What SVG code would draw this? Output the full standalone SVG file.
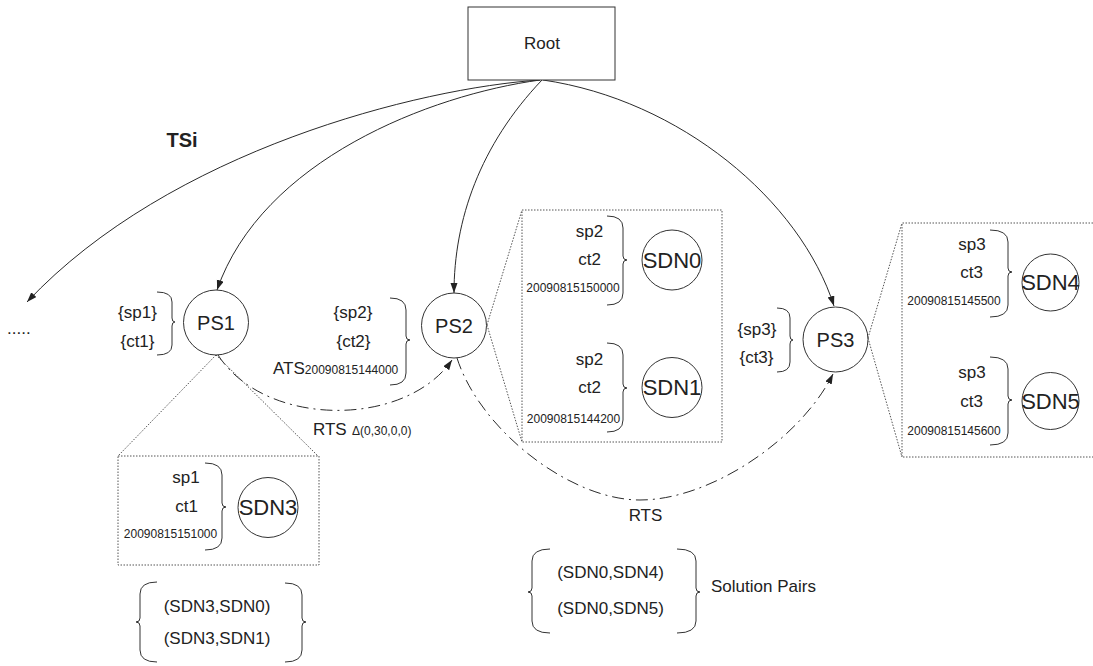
<svg xmlns="http://www.w3.org/2000/svg" width="1093" height="666" viewBox="0 0 1093 666">
<defs>
<marker id="arr" markerUnits="userSpaceOnUse" markerWidth="11" markerHeight="8" refX="10" refY="3.5" orient="auto">
<path d="M0,0 L10,3.5 L0,7 z" fill="#222"/>
</marker>
<style>
text{font-family:"Liberation Sans",Arial,sans-serif;fill:#222}
.t17{font-size:17px}
.t12{font-size:12px}
.ps{font-size:20px;text-anchor:middle}
.sdn{font-size:22px;text-anchor:middle}
.m{text-anchor:middle}
.node{fill:#fff;stroke:#333;stroke-width:1}
.br{fill:none;stroke:#333;stroke-width:1}
.dot{fill:none;stroke:#555;stroke-width:1;stroke-dasharray:1.5 1.5}
.edge{fill:none;stroke:#2a2a2a;stroke-width:1}
.dd{fill:none;stroke:#2a2a2a;stroke-width:1;stroke-dasharray:12 5 2 5}
</style>
</defs>
<rect width="1093" height="666" fill="#fff"/>

<g id="connectors">
<path class="edge" d="M540,80 C420,88 170,150 27,302" marker-end="url(#arr)"/>
<path class="edge" d="M540,80 C430,95 262,160 217,290" marker-end="url(#arr)"/>
<path class="edge" d="M542,80 C480,145 454,220 454,293" marker-end="url(#arr)"/>
<path class="edge" d="M543,80 C680,100 800,200 834,306" marker-end="url(#arr)"/>
<path class="dd" d="M218,355 C265,428 405,428 452,360" marker-end="url(#arr)"/>
<path class="dd" d="M457,358 C480,430 570,500 640,500 C710,500 800,440 833,374" marker-end="url(#arr)"/>
<path class="dot" d="M216,355 L118,456 M216,355 L318,456"/>
<path class="dot" d="M487,325 L522,210 M487,325 L522,442"/>
<path class="dot" d="M868,338 L902,223 M868,338 L902,457"/>
</g>

<g id="root">
<rect class="node" x="468" y="7" width="147" height="73"/>
<text class="t17 m" x="542" y="49">Root</text>
</g>

<g id="tsi-label">
<text x="182" y="147" style="font-size:20px;font-weight:bold;text-anchor:middle">TSi</text>
<text class="t17" x="7" y="334">.....</text>
</g>

<g id="ps1">
<ellipse class="node" cx="216" cy="322.5" rx="32.5" ry="32.5"/>
<text class="ps" x="216" y="329.5">PS1</text>
<text class="t17 m" x="137.5" y="318">{sp1}</text>
<text class="t17 m" x="137.5" y="347">{ct1}</text>
<path class="br" d="M157,292 Q172,292 172,302 L172,318 Q172,322 175,322 Q172,322 172,326 L172,345 Q172,355 157,355"/>
</g>

<g id="ps2">
<ellipse class="node" cx="454" cy="325.5" rx="32.5" ry="32.5"/>
<text class="ps" x="454" y="332.5">PS2</text>
<text class="t17 m" x="353" y="318">{sp2}</text>
<text class="t17 m" x="353.5" y="347">{ct2}</text>
<text x="273" y="374"><tspan class="t17">ATS</tspan><tspan class="t12">20090815144000</tspan></text>
<path class="br" d="M390,298 Q406,298 406,310 L406,336 Q406,340 410,340 Q406,340 406,344 L406,373 Q406,385 390,385"/>
</g>

<g id="ps3">
<ellipse class="node" cx="835.5" cy="339.5" rx="32.5" ry="32.5"/>
<text class="ps" x="835.5" y="347">PS3</text>
<text class="t17 m" x="757" y="335">{sp3}</text>
<text class="t17 m" x="756.5" y="363">{ct3}</text>
<path class="br" d="M777,308 Q790,308 790,318 L790,336 Q790,340 793,340 Q790,340 790,344 L790,362 Q790,372 777,372"/>
</g>

<g id="rts-labels">
<text x="313" y="435"><tspan class="t17">RTS</tspan><tspan class="t12" x="352">Δ(0,30,0,0)</tspan></text>
<text class="t17 m" x="645.5" y="521">RTS</text>
</g>

<g id="box-ps2">
<rect class="dot" x="522" y="210" width="200" height="232"/>
</g>

<g id="sdn0">
<ellipse class="node" cx="672" cy="260" rx="30" ry="30"/>
<text class="sdn" x="672" y="268">SDN0</text>
<text class="t17 m" x="589.5" y="237">sp2</text>
<text class="t17 m" x="589.5" y="265">ct2</text>
<text class="t12 m" x="573" y="292">20090815150000</text>
<path class="br" d="M607,216 Q623,216 623,228 L623,256 Q623,260 627,260 Q623,260 623,264 L623,293 Q623,305 607,305"/>
</g>

<g id="sdn1">
<ellipse class="node" cx="672" cy="387.5" rx="30" ry="30"/>
<text class="sdn" x="672" y="395">SDN1</text>
<text class="t17 m" x="589.5" y="365">sp2</text>
<text class="t17 m" x="589.5" y="393">ct2</text>
<text class="t12 m" x="573.5" y="423">20090815144200</text>
<path class="br" d="M607,343 Q623,343 623,355 L623,384 Q623,388 627,388 Q623,388 623,392 L623,420 Q623,432 607,432"/>
</g>

<g id="box-ps3">
<path class="dot" d="M1093,223 H902 V457 H1093"/>
</g>

<g id="sdn4">
<ellipse class="node" cx="1050.5" cy="282.5" rx="28.5" ry="28.5"/>
<text class="sdn" x="1050.5" y="290">SDN4</text>
<text class="t17 m" x="972" y="250">sp3</text>
<text class="t17 m" x="971.5" y="278">ct3</text>
<text class="t12 m" x="954" y="305">20090815145500</text>
<path class="br" d="M990,230 Q1008,230 1008,242 L1008,268 Q1008,272 1012,272 Q1008,272 1008,276 L1008,305 Q1008,317 990,317"/>
</g>

<g id="sdn5">
<ellipse class="node" cx="1050.5" cy="401" rx="28.5" ry="28.5"/>
<text class="sdn" x="1050.5" y="409">SDN5</text>
<text class="t17 m" x="972" y="378">sp3</text>
<text class="t17 m" x="971.5" y="407">ct3</text>
<text class="t12 m" x="954" y="435">20090815145600</text>
<path class="br" d="M990,357 Q1008,357 1008,369 L1008,396 Q1008,400 1012,400 Q1008,400 1008,404 L1008,433 Q1008,445 990,445"/>
</g>

<g id="box-ps1">
<rect class="dot" x="118" y="456" width="201" height="109"/>
</g>

<g id="sdn3">
<ellipse class="node" cx="268" cy="507.5" rx="30" ry="30"/>
<text class="sdn" x="268" y="515">SDN3</text>
<text class="t17 m" x="186" y="483">sp1</text>
<text class="t17 m" x="186.5" y="512">ct1</text>
<text class="t12 m" x="170.5" y="538">20090815151000</text>
<path class="br" d="M205,463 Q222,463 222,475 L222,503 Q222,507 226,507 Q222,507 222,511 L222,538 Q222,550 205,550"/>
</g>

<g id="pairs-sdn3">
<path class="br" d="M157,582 Q140,582 140,594 L140,618 Q140,622 136,622 Q140,622 140,626 L140,650 Q140,662 157,662"/>
<path class="br" d="M285,583 Q302,583 302,595 L302,618 Q302,622 306,622 Q302,622 302,626 L302,650 Q302,662 285,662"/>
<text class="t17 m" x="217" y="612">(SDN3,SDN0)</text>
<text class="t17 m" x="217" y="644">(SDN3,SDN1)</text>
</g>

<g id="solution-pairs">
<path class="br" d="M550,549 Q532,549 532,561 L532,588 Q532,592 528,592 Q532,592 532,596 L532,621 Q532,633 550,633"/>
<path class="br" d="M677,549 Q696,549 696,561 L696,588 Q696,592 700,592 Q696,592 696,596 L696,621 Q696,633 677,633"/>
<text class="t17 m" x="610.5" y="578">(SDN0,SDN4)</text>
<text class="t17 m" x="610.5" y="614">(SDN0,SDN5)</text>
<text class="t17" x="711" y="592">Solution Pairs</text>
</g>
</svg>
